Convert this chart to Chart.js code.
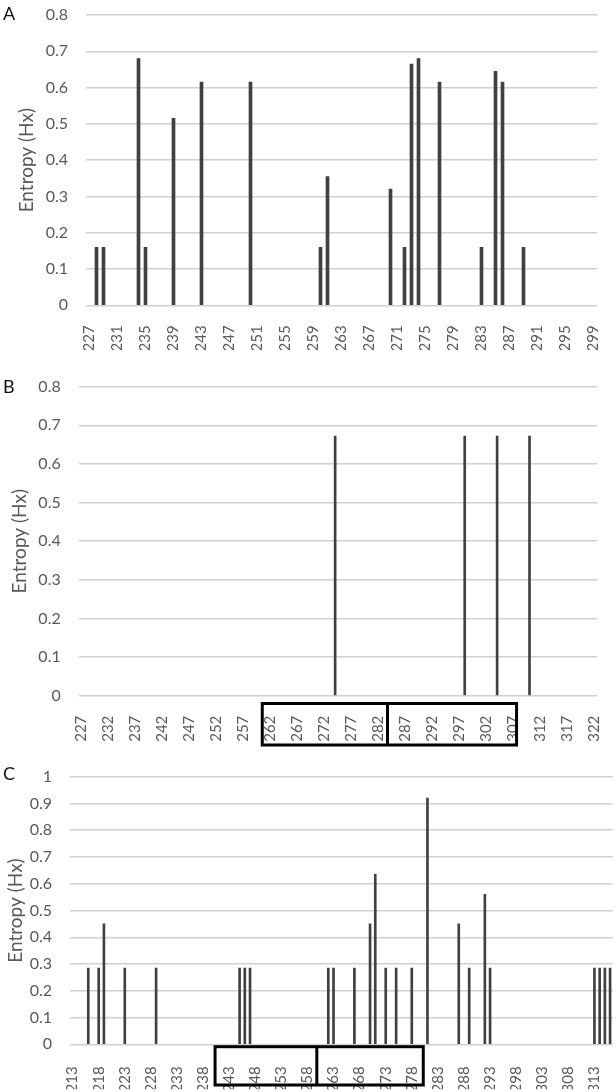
<!DOCTYPE html>
<html>
<head>
<meta charset="utf-8">
<script src="https://cdn.jsdelivr.net/npm/chart.js@4.4.0/dist/chart.umd.min.js"></script>
<style>
body{margin:0;background:#fff;width:616px;height:1092px;position:relative;overflow:hidden;font-family:Lato,sans-serif}
canvas{position:absolute;left:0}
.letter{position:absolute;left:3px;font-size:18px;color:#111;font-family:Lato,sans-serif}
</style>
</head>
<body>
<canvas id="chartA" style="top:0px" width="616" height="355"></canvas>
<canvas id="chartB" style="top:355px" width="616" height="395"></canvas>
<canvas id="chartC" style="top:750px" width="616" height="342"></canvas>
<div class="letter" style="top:2px">A</div>
<div class="letter" style="top:375px">B</div>
<div class="letter" style="top:762px">C</div>
<script>
// panel A
var aStart = 227, aEnd = 299;
var aSites = [228, 229, 234, 235, 239, 243, 250, 260, 261, 270, 272, 273, 274, 277, 283, 285, 286, 289];
var aEntropy = [0.16, 0.16, 0.68, 0.16, 0.515, 0.615, 0.615, 0.16, 0.355, 0.32, 0.16, 0.665, 0.68, 0.615, 0.16, 0.645, 0.615, 0.16];
var aTicks = [227, 231, 235, 239, 243, 247, 251, 255, 259, 263, 267, 271, 275, 279, 283, 287, 291, 295, 299];

// panel B
var bStart = 227, bEnd = 322;
var bSites = [274, 298, 304, 310];
var bEntropy = [0.672, 0.672, 0.672, 0.672];
var bTicks = [227, 232, 237, 242, 247, 252, 257, 262, 267, 272, 277, 282, 287, 292, 297, 302, 307, 312, 317, 322];

// panel C
var cStart = 213, cEnd = 316;
var cSites = [216, 218, 219, 223, 229, 245, 246, 247, 262, 263, 267, 270, 271, 273, 275, 278, 281, 287, 289, 292, 293, 313, 314, 315, 316];
var cEntropy = [0.285, 0.285, 0.45, 0.285, 0.285, 0.285, 0.285, 0.285, 0.285, 0.285, 0.285, 0.45, 0.635, 0.285, 0.285, 0.285, 0.92, 0.45, 0.285, 0.56, 0.285, 0.285, 0.285, 0.285, 0.285];
var cTicks = [213, 218, 223, 228, 233, 238, 243, 248, 253, 258, 263, 268, 273, 278, 283, 288, 293, 298, 303, 308, 313];

var barColor = '#404040', gridColor = '#d0d0d0', textColor = '#595959';

// black boxes drawn around groups of axis labels
var labelBoxes = {
    id: 'labelBoxes',
    afterDraw: function (chart, args, opts) {
        if (!opts || !opts.edges) return;
        var x = chart.scales.x, ctx = chart.ctx;
        var first = chart.data.labels[0];
        var top = x.top + opts.top, bottom = x.top + opts.bottom;
        var px = opts.edges.map(function (e) { return x.getPixelForValue(e - first); });
        ctx.save();
        ctx.strokeStyle = '#000';
        ctx.lineWidth = 3;
        ctx.strokeRect(px[0], top, px[px.length - 1] - px[0], bottom - top);
        for (var i = 1; i < px.length - 1; i++) {
            ctx.beginPath();
            ctx.moveTo(px[i], top);
            ctx.lineTo(px[i], bottom);
            ctx.stroke();
        }
        ctx.restore();
    }
};

function noPadding(s) {
    s.paddingLeft = 0; s.paddingRight = 0; s.paddingTop = 0; s.paddingBottom = 0;
}

function makeChart(id, p) {
    var labels = [];
    for (var r = p.start; r <= p.end; r++) labels.push(r);
    var values = labels.map(function (r) {
        var i = p.sites.indexOf(r);
        return i >= 0 ? p.entropy[i] : null;
    });
    var canvas = document.getElementById(id);
    var h = canvas.height;
    return new Chart(canvas, {
        type: 'bar',
        data: {
            labels: labels,
            datasets: [{ data: values, backgroundColor: barColor, barThickness: p.barWidth }]
        },
        plugins: [labelBoxes],
        options: {
            responsive: false,
            animation: false,
            layout: { padding: { left: 0, top: p.plotTop, right: 616 - p.plotRight, bottom: h - p.plotBottom - p.axisH } },
            plugins: { legend: { display: false }, tooltip: { enabled: false }, labelBoxes: p.boxes || {} },
            scales: {
                x: {
                    grid: { display: false },
                    border: { display: false },
                    ticks: {
                        autoSkip: false, minRotation: 90, maxRotation: 90, padding: p.labelPad,
                        color: textColor, font: { family: 'Lato', size: 15 },
                        callback: function (v, i) {
                            return p.ticks.indexOf(labels[i]) >= 0 ? String(labels[i]) : '';
                        }
                    },
                    afterFit: function (s) { s.height = p.axisH; noPadding(s); }
                },
                y: {
                    min: 0, max: p.yMax,
                    grid: { display: true, color: gridColor, lineWidth: 1.5, drawTicks: false },
                    border: { display: false },
                    ticks: {
                        stepSize: 0.1, padding: 18, color: textColor, font: { family: 'Lato', size: 16 },
                        callback: function (v) { return String(Math.round(v * 10) / 10); }
                    },
                    title: {
                        display: true, text: 'Entropy (Hx)', color: textColor,
                        font: { family: 'Lato', size: 19 },
                        padding: { top: p.titleX - 11.4, bottom: 0 }
                    },
                    afterFit: function (s) { s.width = p.plotLeft; noPadding(s); }
                }
            }
        }
    });
}

makeChart('chartA', {
    start: aStart, end: aEnd, sites: aSites, entropy: aEntropy, ticks: aTicks, yMax: 0.8,
    barWidth: 3, plotTop: 15, plotBottom: 305.3, plotLeft: 86, plotRight: 597, axisH: 45, labelPad: 12, titleX: 27
});
makeChart('chartB', {
    start: bStart, end: bEnd, sites: bSites, entropy: bEntropy, ticks: bTicks, yMax: 0.8,
    barWidth: 2, plotTop: 31.7, plotBottom: 340.7, plotLeft: 78.7, plotRight: 597, axisH: 50, labelPad: 12, titleX: 20,
    boxes: { edges: [260.5, 283.7, 307.6], top: 7.8, bottom: 49.3 }
});
makeChart('chartC', {
    start: cStart, end: cEnd, sites: cSites, entropy: cEntropy, ticks: cTicks, yMax: 1,
    barWidth: 2, plotTop: 26.7, plotBottom: 294.3, plotLeft: 70, plotRight: 612.7, axisH: 45, labelPad: 14, titleX: 16,
    boxes: { edges: [240.3, 259.8, 280.2], top: 2.4, bottom: 40.7 }
});
</script>
</body>
</html>
